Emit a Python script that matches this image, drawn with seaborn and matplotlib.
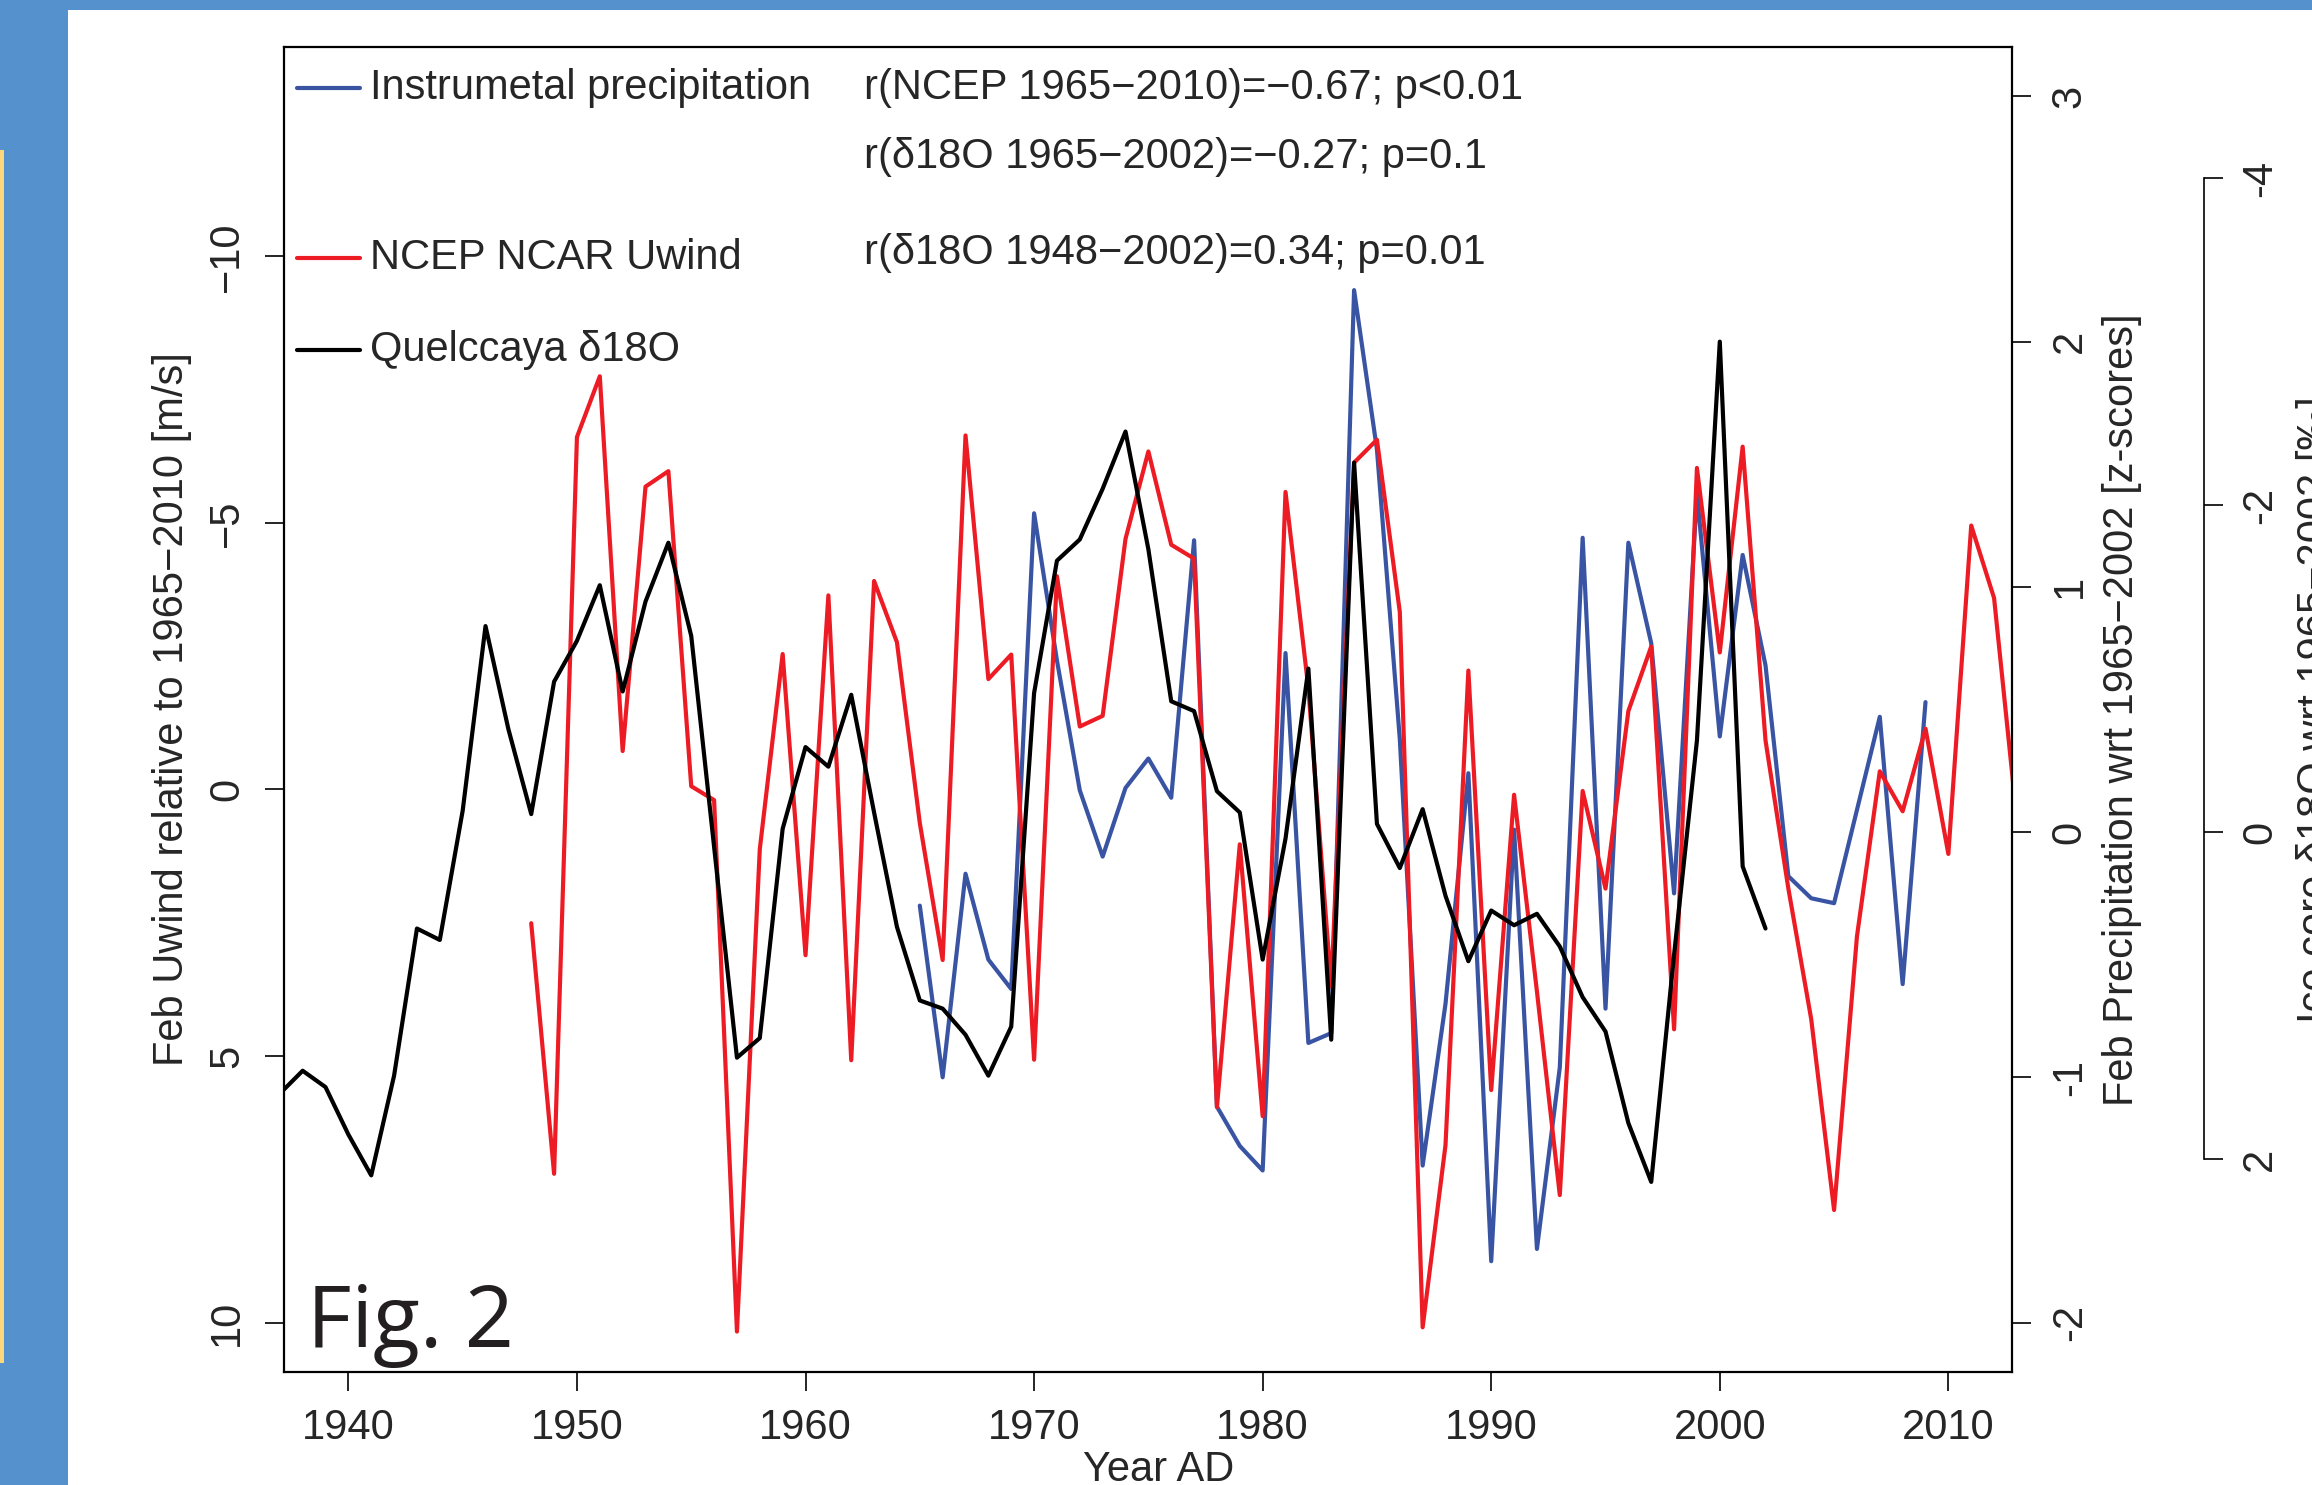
#!/usr/bin/env python3
"""
Fig. 2: Feb precipitation, NCEP/NCAR u-wind and Quelccaya d18O on three y-axes
"""

import numpy as np
import matplotlib
matplotlib.use('Agg')
import matplotlib.pyplot as plt
import seaborn as sns
from matplotlib.lines import Line2D
from matplotlib.patches import Rectangle

# Data
ICE_YEARS = list(range(1937, 2003))
ICE_D18O = [1.60, 1.46, 1.56, 1.85, 2.10, 1.49, 0.59, 0.66, -0.13, -1.26,
            -0.63, -0.11, -0.92, -1.17, -1.51, -0.86, -1.41, -1.77, -1.20, 0.09,
            1.38, 1.26, -0.02, -0.52, -0.40, -0.84, -0.12, 0.58, 1.03, 1.08,
            1.24, 1.49, 1.19, -0.85, -1.66, -1.79, -2.10, -2.45, -1.73, -0.80,
            -0.74, -0.25, -0.12, 0.78, 0.04, -1.00, 1.27, -2.26, -0.05, 0.22,
            -0.14, 0.39, 0.79, 0.48, 0.57, 0.50, 0.70, 1.01, 1.22, 1.78,
            2.14, 0.75, -0.56, -3.00, 0.21, 0.59]

WIND_YEARS = list(range(1948, 2014))
WIND_U = [2.51, 7.21, -6.61, -7.75, -0.72, -5.68, -5.97, -0.06, 0.20, 10.17,
          1.12, -2.54, 3.11, -3.64, 5.08, -3.91, -2.76, 0.63, 3.20, -6.64,
          -2.07, -2.53, 5.07, -4.00, -1.18, -1.38, -4.70, -6.34, -4.59, -4.33,
          5.96, 1.03, 6.13, -5.58, -1.90, 3.70, -6.13, -6.56, -3.33, 10.09,
          6.67, -2.23, 5.64, 0.10, 3.79, 7.61, 0.03, 1.86, -1.47, -2.68,
          4.50, -6.03, -2.57, -6.43, -0.92, 1.86, 4.31, 7.89, 2.76, -0.34,
          0.41, -1.14, 1.21, -4.95, -3.59, 0.58]

PRECIP_YEARS = list(range(1965, 2010))
PRECIP_Z = [-0.30, -1.00, -0.17, -0.52, -0.64, 1.30, 0.70, 0.17, -0.10, 0.18,
            0.30, 0.14, 1.19, -1.12, -1.28, -1.38, 0.73, -0.86, -0.82, 2.21,
            1.56, 0.38, -1.36, -0.70, 0.24, -1.75, 0.01, -1.70, -0.96, 1.20,
            -0.72, 1.18, 0.77, -0.25, 1.38, 0.39, 1.13, 0.68, -0.18, -0.27,
            -0.29, 0.09, 0.47, -0.62, 0.53]

YEAR_TICKS = [1940, 1950, 1960, 1970, 1980, 1990, 2000, 2010]
WIND_TICKS = [-10, -5, 0, 5, 10]
WIND_TICKLABELS = ['\u221210', '\u22125', '0', '5', '10']
PRECIP_TICKS = [-2, -1, 0, 1, 2, 3]
PRECIP_TICKLABELS = ['-2', '-1', '0', '1', '2', '3']
ICE_TICKS = [-4, -2, 0, 2]
ICE_TICKLABELS = ['-4', '-2', '0', '2']

LEGEND_LABELS = ['Instrumetal precipitation', 'NCEP NCAR Uwind', 'Quelccaya \u03b418O']
STATS_LABELS = ['r(NCEP 1965\u22122010)=\u22120.67; p<0.01',
                'r(\u03b418O 1965\u22122002)=\u22120.27; p=0.1',
                'r(\u03b418O 1948\u22122002)=0.34; p=0.01']

COLORS = {
    'precip': '#3a54a4',
    'wind': '#ed1c24',
    'ice': '#000000',
}

sns.set_theme(style='white')
plt.rcParams['font.family'] = ['Liberation Sans', 'DejaVu Sans']
plt.rcParams['axes.unicode_minus'] = True

FS = 30
LW = 3.0

fig = plt.figure(figsize=(23.12, 14.85), dpi=100, facecolor='white')

# slide background bits
fig.patches.append(Rectangle((0, 0), 68 / 2312, 1, transform=fig.transFigure,
                             facecolor='#5591cc', edgecolor='none', zorder=-10))
fig.patches.append(Rectangle((0, 1 - 10 / 1485), 1, 10 / 1485, transform=fig.transFigure,
                             facecolor='#5591cc', edgecolor='none', zorder=-10))
fig.patches.append(Rectangle((0, 1 - 1363 / 1485), 4 / 2312, (1363 - 150) / 1485,
                             transform=fig.transFigure, facecolor='#fcd77c',
                             edgecolor='none', zorder=-9))

ax = fig.add_axes([0.1230, 0.0764, 0.7474, 0.8917])
ax_p = ax.twinx()
ax_i = ax.twinx()

# blue below red below black
ax_p.set_zorder(1)
ax.set_zorder(2)
ax_i.set_zorder(3)
for a in (ax, ax_p, ax_i):
    a.patch.set_visible(False)

sns.lineplot(x=PRECIP_YEARS, y=PRECIP_Z, ax=ax_p, color=COLORS['precip'], linewidth=LW)
sns.lineplot(x=WIND_YEARS, y=WIND_U, ax=ax, color=COLORS['wind'], linewidth=LW)
sns.lineplot(x=ICE_YEARS, y=ICE_D18O, ax=ax_i, color=COLORS['ice'], linewidth=LW)

# limits (R style 4% padding)
ax.set_xlim(1937.2, 2012.8)
ax.set_ylim(10.92, -13.92)
ax_p.set_ylim(-2.2, 3.2)
ax_i.set_ylim(3.3, -4.8)

# main box
for side in ['left', 'right', 'top', 'bottom']:
    ax.spines[side].set_visible(True)
    ax.spines[side].set_linewidth(1.6)
    ax.spines[side].set_color('black')
for side in ['left', 'top', 'bottom', 'right']:
    ax_p.spines[side].set_visible(False)
for side in ['left', 'top', 'bottom']:
    ax_i.spines[side].set_visible(False)
ax_i.spines['right'].set_visible(True)
ax_i.spines['right'].set_position(('axes', 1.111))
ax_i.spines['right'].set_bounds(-4, 2)
ax_i.spines['right'].set_linewidth(1.2)
ax_i.spines['right'].set_color('black')

# x axis
ax.set_xticks(YEAR_TICKS)
ax.set_xticklabels([str(y) for y in YEAR_TICKS])
ax.tick_params(axis='x', direction='out', length=14, width=1.2, pad=12,
               labelsize=FS, bottom=True, top=False, color='black')
ax.set_xlabel('Year AD', fontsize=FS)
ax.xaxis.set_label_coords(0.506, -0.0593)

# left axis: wind
ax.set_yticks(WIND_TICKS)
ax.set_yticklabels(WIND_TICKLABELS)
ax.tick_params(axis='y', direction='out', length=14, width=1.2, pad=13,
               labelsize=FS, left=True, right=False, labelrotation=90, color='black')
for t in ax.get_yticklabels():
    t.set_va('center')
ax.set_ylabel('Feb Uwind relative to 1965\u22122010 [m/s]', fontsize=FS)
ax.yaxis.set_label_coords(-0.0650, 0.5)
ax.yaxis.label.set_va('center')

# right axis: precipitation
ax_p.set_yticks(PRECIP_TICKS)
ax_p.set_yticklabels(PRECIP_TICKLABELS)
ax_p.tick_params(axis='y', direction='out', length=14, width=1.2, pad=13,
                 labelsize=FS, right=True, left=False, labelrotation=90, color='black')
for t in ax_p.get_yticklabels():
    t.set_va('center')
ax_p.set_ylabel('Feb Precipitation wrt 1965\u22122002 [z-scores]', fontsize=FS, rotation=90)
ax_p.yaxis.set_label_coords(1.0635, 0.5)
ax_p.yaxis.label.set_va('center')
ax_p.yaxis.label.set_ha('center')

# outer right axis: ice core
ax_i.set_yticks(ICE_TICKS)
ax_i.set_yticklabels(ICE_TICKLABELS)
ax_i.tick_params(axis='y', direction='out', length=14, width=1.2, pad=12,
                 labelsize=FS, right=True, left=False, labelrotation=90, color='black')
for t in ax_i.get_yticklabels():
    t.set_va('center')
ax_i.set_ylabel('Ice core \u03b418O wrt 1965\u22122002 [\u2030]', fontsize=FS, rotation=90)
ax_i.yaxis.set_label_coords(1.1756, 0.5)
ax_i.yaxis.label.set_va('center')
ax_i.yaxis.label.set_ha('center')

for a in (ax_p, ax_i):
    a.set_xlabel('')
    a.grid(False)
ax.grid(False)

# legend, drawn by hand (rows are unevenly spaced in the original)
legend_rows = [0.969, 0.841, 0.7715]
for label, key, yrow in zip(LEGEND_LABELS, ['precip', 'wind', 'ice'], legend_rows):
    ax.add_line(Line2D([0.0073, 0.0438], [yrow, yrow], transform=ax.transAxes,
                       color=COLORS[key], linewidth=LW))
    ax.text(0.0498, yrow, label, transform=ax.transAxes, fontsize=FS,
            ha='left', va='center')

stats_rows = [0.9693, 0.9172, 0.8447]
for label, yrow in zip(STATS_LABELS, stats_rows):
    ax.text(0.3352, yrow, label, transform=ax.transAxes, fontsize=FS,
            ha='left', va='center')

ax.text(0.0130, 0.0185, 'Fig. 2', transform=ax.transAxes, fontsize=62,
        ha='left', va='baseline', color='#231f20',
        family=['Open Sans', 'DejaVu Sans'])

plt.savefig('out.png', dpi=100)
plt.close()
print("saved out.png")
